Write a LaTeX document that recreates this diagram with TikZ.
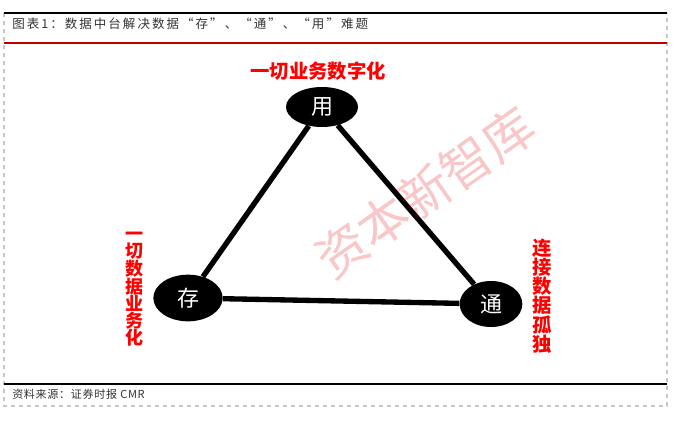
\documentclass[tikz,border=0pt]{standalone}
\usepackage{fontspec}
\newfontfamily\cjk{Noto Sans CJK SC}
\newfontfamily\cjkt[LetterSpace=16]{Noto Sans CJK SC}
\newfontfamily\cjks[LetterSpace=6]{Noto Sans CJK SC}
\usetikzlibrary{shapes.geometric}
\definecolor{borderred}{RGB}{192,0,0}
\definecolor{labelred}{RGB}{255,0,0}
\begin{document}
\begin{tikzpicture}[x=0.75pt,y=-0.75pt,
  bub/.style={ellipse, fill=black, inner sep=0pt, text=white,
    font=\cjk\fontsize{16.5pt}{18pt}\selectfont},
  conn/.style={line width=4pt, black},
  toplabel/.style={text=labelred, font=\cjk\bfseries\fontsize{14.5pt}{16pt}\selectfont, inner sep=0pt},
  vlabel/.style={text=labelred, align=center, inner sep=0pt},
  rule/.style={line width=1.1pt}]
\useasboundingbox (0,0) rectangle (678,421);
% frame
\draw[black!22, dashed, line width=0.8pt] (4,13) -- (4,406) -- (667,406) -- (667,13);
\draw[rule, black] (4,13) -- (667,13);
\draw[rule, borderred] (4,43) -- (667,43);
\draw[rule, black] (4,384) -- (667,384);
\node[anchor=west, inner sep=0pt, text=black!80, font=\cjkt\fontsize{9.4pt}{10pt}\selectfont] (title) at (12,24) {图表1：数据中台解决数据“存”、“通”、“用”难题};
\node[anchor=west, inner sep=0pt, text=black!80, font=\cjks\fontsize{8.3pt}{9pt}\selectfont] (src) at (12,394) {资料来源：证券时报 CMR};
% nodes
\node[bub, minimum width=54pt, minimum height=30pt] (yong) at (322,107) {用};
\node[bub, minimum width=52pt, minimum height=35pt] (cun) at (188,298) {存};
\node[bub, minimum width=47pt, minimum height=34.5pt] (tong) at (491,304) {通};
% connectors
\draw[conn] (yong) -- (cun);
\draw[conn] (yong) -- (tong);
\draw[conn] (cun) -- (tong);
% labels
\node[toplabel] (ltop) at (318,71) {一切业务数字化};
\node[vlabel, font=\cjk\bfseries\fontsize{13.5pt}{12.9pt}\selectfont] (lleft) at (134,289) {一\\切\\数\\据\\业\\务\\化};
\node[vlabel, font=\cjk\bfseries\fontsize{14.5pt}{14.4pt}\selectfont] (lright) at (542,296) {连\\接\\数\\据\\孤\\独};
% watermark
\node[rotate=35, text=red!90!black, opacity=0.22, inner sep=0pt,
  font=\cjk\fontsize{38pt}{40pt}\selectfont] (wm) at (425,192) {资本新智库};
\end{tikzpicture}
\end{document}
